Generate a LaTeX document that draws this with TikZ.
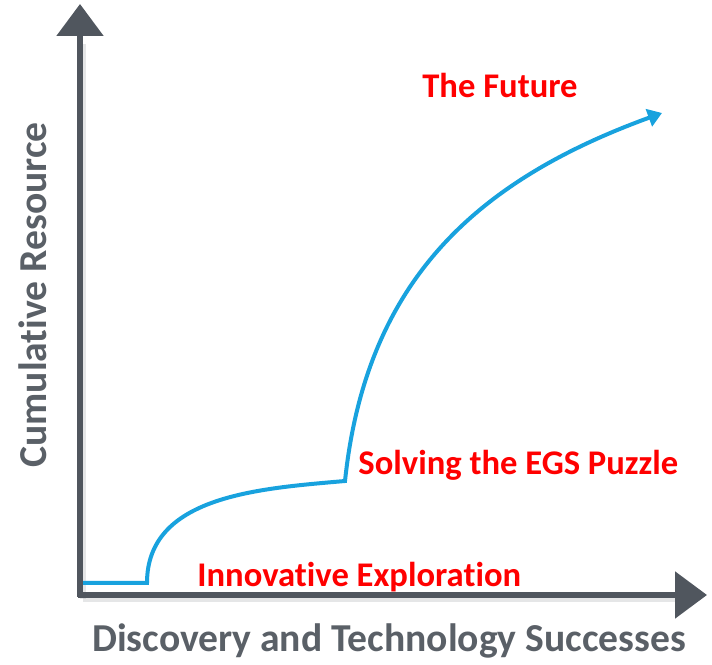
\documentclass[tikz,border=0pt]{standalone}
\usepackage{fontspec}
\setmainfont{Carlito}[Ligatures=NoCommon]
\usepackage{xcolor}
\usepackage{tikz}
\usetikzlibrary{calc,arrows.meta}

\definecolor{axisgray}{RGB}{80,86,94}
\definecolor{labelgray}{RGB}{90,96,103}
\definecolor{curveblue}{RGB}{24,162,222}
\definecolor{shadowgray}{RGB}{170,172,176}

\tikzset{
  axis/.style={axisgray, line width=2.75pt, -{Triangle[length=16pt, width=23pt]}},
  axisshadow/.style={shadowgray, line width=3pt, opacity=0.3},
  axislabel/.style={labelgray, font=\fontsize{19.8}{22}\selectfont\bfseries, inner sep=0pt},
  stage/.style={red, font=\fontsize{17.3}{20}\selectfont\bfseries, inner sep=0pt},
  growth/.style={curveblue, line width=2pt, line join=miter}
}

\begin{document}
\begin{tikzpicture}[x=0.5pt, y=0.5pt]
  \useasboundingbox (0,0) rectangle (712,664);

  % 座標の定義
  \coordinate (origin) at (80,69);
  \coordinate (ytip) at (80,660);
  \coordinate (xtip) at (707,69);
  \coordinate (start) at (83,81);
  \coordinate (kinkA) at (147,81);
  \coordinate (kinkB) at (345,183);
  \coordinate (future) at (662,551);

  % 軸の影
  \draw[axisshadow] ($(origin)+(3,-4)$) -- ($(xtip)+(-30,-4)$);
  \draw[axisshadow] ($(origin)+(3,-4)$) -- ($(ytip)+(3,-40)$);

  % 軸 (矢印付き)
  \draw[axis] ($(origin)+(-2,0)$) -- (xtip);
  \draw[axis] ($(origin)+(0,-2)$) -- (ytip);

  % 軸ラベル
  \node[axislabel, rotate=90, anchor=base] (ylabel) at (46,369) {Cumulative Resource};
  \node[axislabel, anchor=base] (xlabel) at (389,12) {Discovery and Technology Successes};

  % 成長曲線 (青の曲線)
  \draw[growth, -{Triangle[length=7pt, width=9pt]}]
    (start) -- (kinkA)
    to[out=90, in=185] (kinkB)
    to[out=84, in=200, looseness=1.05] (future);

  % 段階のラベル
  \node[stage, anchor=base] (future label) at (500,566) {The Future};
  \node[stage, anchor=base west] (egs) at (358,189) {Solving the EGS Puzzle};
  \node[stage, anchor=base west] (explore) at (197,77) {Innovative Exploration};
\end{tikzpicture}
\end{document}
